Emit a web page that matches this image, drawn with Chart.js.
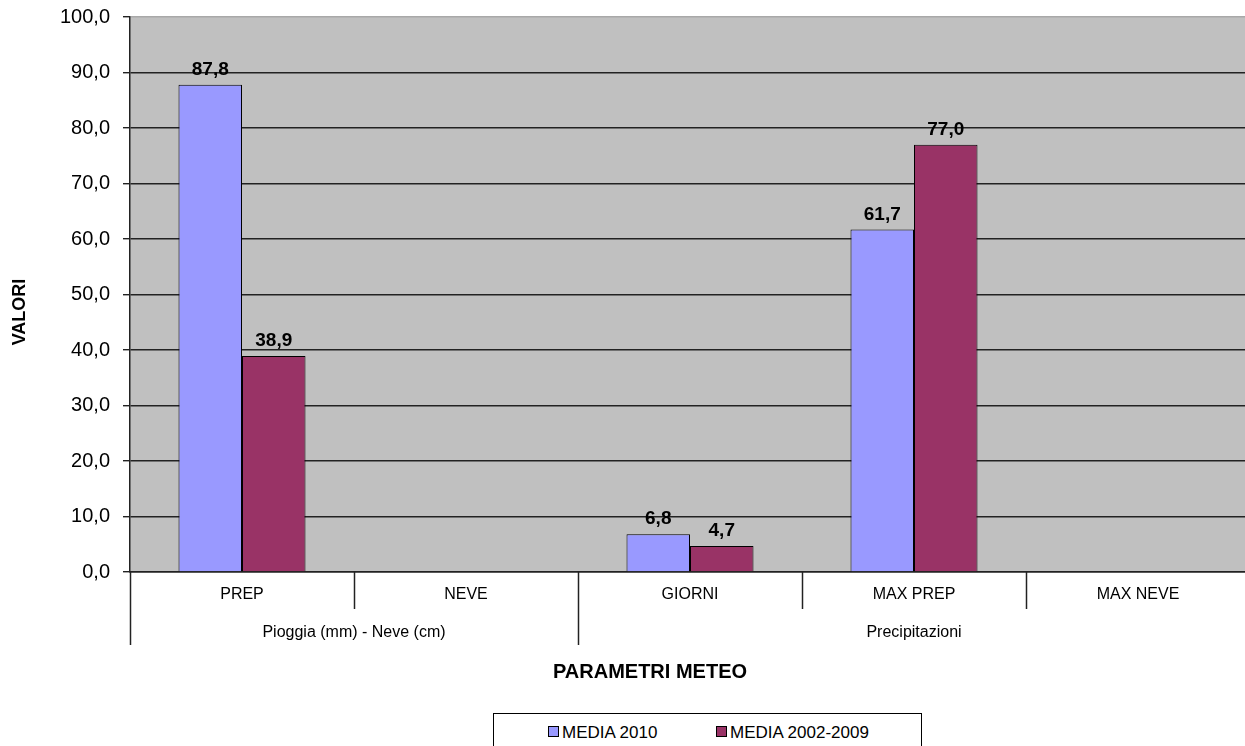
<!DOCTYPE html>
<html>
<head>
<meta charset="utf-8">
<script src="https://cdn.jsdelivr.net/npm/chart.js@4.4.1/dist/chart.umd.min.js"></script>
<style>
  html, body { margin:0; padding:0; background:#fff; overflow:hidden; }
  #wrap { position:relative; width:1252px; height:746px; }
  #legend {
    position:absolute; left:493px; top:713px; width:429px; height:40px;
    border:1px solid #000; box-sizing:border-box; background:#fff;
    font:17px "Liberation Sans", Arial, sans-serif; color:#000;
  }
  #legend .item { position:absolute; top:9px; white-space:nowrap; }
  #legend .sw { display:inline-block; width:9px; height:9px; border:1px solid #000; margin-right:3px; vertical-align:1px; }
</style>
</head>
<body>
<div id="wrap">
  <canvas id="c" width="1252" height="746"></canvas>
  <div id="legend"></div>
</div>
<script>
const categories = ['PREP', 'NEVE', 'GIORNI', 'MAX PREP', 'MAX NEVE'];
const groupNames = ['Pioggia (mm) - Neve (cm)', 'Precipitazioni'];
const groupSizes = [2, 3];
const media2010 = [87.8, null, 6.8, 61.7, null];
const media0209 = [38.9, null, 4.7, 77.0, null];
const seriesNames = ['MEDIA 2010', 'MEDIA 2002-2009'];
const colors = ['#9999FF', '#993366'];

const FONT = '"Liberation Sans", Arial, sans-serif';
const fmt = v => v.toFixed(1).replace('.', ',');

// value labels above each bar
const valueLabels = {
  id: 'valueLabels',
  afterDatasetsDraw(chart) {
    const ctx = chart.ctx;
    ctx.save();
    ctx.font = 'bold 19px ' + FONT;
    ctx.fillStyle = '#000';
    ctx.textAlign = 'center';
    ctx.textBaseline = 'alphabetic';
    chart.data.datasets.forEach((ds, di) => {
      chart.getDatasetMeta(di).data.forEach((el, i) => {
        if (ds.data[i] == null) return;
        ctx.fillText(fmt(ds.data[i]), el.x, el.y - 10);
      });
    });
    ctx.restore();
  }
};

// two-level category axis + axis titles
const groupAxis = {
  id: 'groupAxis',
  afterDraw(chart) {
    const ctx = chart.ctx;
    const x = chart.scales.x;
    const area = chart.chartArea;
    const w = x.getPixelForValue(1) - x.getPixelForValue(0);
    const edge = i => x.getPixelForValue(i) - w / 2;
    const groupEdges = [0];
    groupSizes.forEach(n => groupEdges.push(groupEdges[groupEdges.length - 1] + n));

    ctx.save();
    ctx.strokeStyle = '#222';
    ctx.lineWidth = 1.5;
    for (let i = 0; i <= categories.length; i++) {
      const px = Math.round(edge(i)) + 0.5;
      const long = groupEdges.includes(i);
      ctx.beginPath();
      ctx.moveTo(px, area.bottom);
      ctx.lineTo(px, long ? 645 : 609);
      ctx.stroke();
    }
    ctx.fillStyle = '#000';
    ctx.textAlign = 'center';
    ctx.textBaseline = 'middle';
    ctx.font = '16px ' + FONT;
    categories.forEach((c, i) => ctx.fillText(c, x.getPixelForValue(i), 595));
    groupNames.forEach((g, gi) => {
      const mid = (edge(groupEdges[gi]) + edge(groupEdges[gi + 1])) / 2;
      ctx.fillText(g, mid, 633);
    });

    ctx.font = 'bold 20px ' + FONT;
    ctx.fillText('PARAMETRI METEO', 650, 672);
    ctx.translate(20, 312);
    ctx.rotate(-Math.PI / 2);
    ctx.font = 'bold 18px ' + FONT;
    ctx.fillText('VALORI', 0, 0);
    ctx.restore();
  }
};

const plotBg = {
  id: 'plotBg',
  beforeDraw(chart) {
    const a = chart.chartArea;
    chart.ctx.save();
    chart.ctx.fillStyle = '#C0C0C0';
    chart.ctx.fillRect(a.left, a.top, a.right - a.left + 10, a.bottom - a.top);
    chart.ctx.restore();
  }
};

new Chart(document.getElementById('c'), {
  type: 'bar',
  data: {
    labels: categories,
    datasets: [
      { label: seriesNames[0], data: media2010, backgroundColor: colors[0], borderColor: '#000', borderWidth: 1 },
      { label: seriesNames[1], data: media0209, backgroundColor: colors[1], borderColor: '#000', borderWidth: 1 }
    ]
  },
  options: {
    responsive: false,
    animation: false,
    layout: { padding: { top: 17, left: 0, right: 2, bottom: 0 } },
    datasets: { bar: { categoryPercentage: 0.567, barPercentage: 1 } },
    plugins: { legend: { display: false }, tooltip: { enabled: false } },
    scales: {
      x: {
        afterFit: s => { s.height = 174; },
        ticks: { display: false },
        grid: { display: false },
        border: { color: '#222', width: 1.5 }
      },
      y: {
        min: 0, max: 100,
        afterFit: s => { s.width = 130; s.paddingTop = 0; s.paddingBottom = 0; },
        ticks: {
          stepSize: 10, padding: 13, color: '#000',
          font: { family: FONT, size: 20 },
          callback: v => fmt(v)
        },
        grid: {
          color: c => c.tick && c.tick.value === 100 ? '#a8a8a8' : '#222',
          lineWidth: 1.4, tickLength: 7, tickColor: '#222'
        },
        border: { color: '#222', width: 1.5 }
      }
    }
  },
  plugins: [plotBg, valueLabels, groupAxis]
});

document.getElementById('legend').innerHTML =
  '<span class="item" style="left:54px"><span class="sw" style="background:' + colors[0] + '"></span>' + seriesNames[0] + '</span>' +
  '<span class="item" style="left:222px"><span class="sw" style="background:' + colors[1] + '"></span>' + seriesNames[1] + '</span>';
</script>
</body>
</html>
